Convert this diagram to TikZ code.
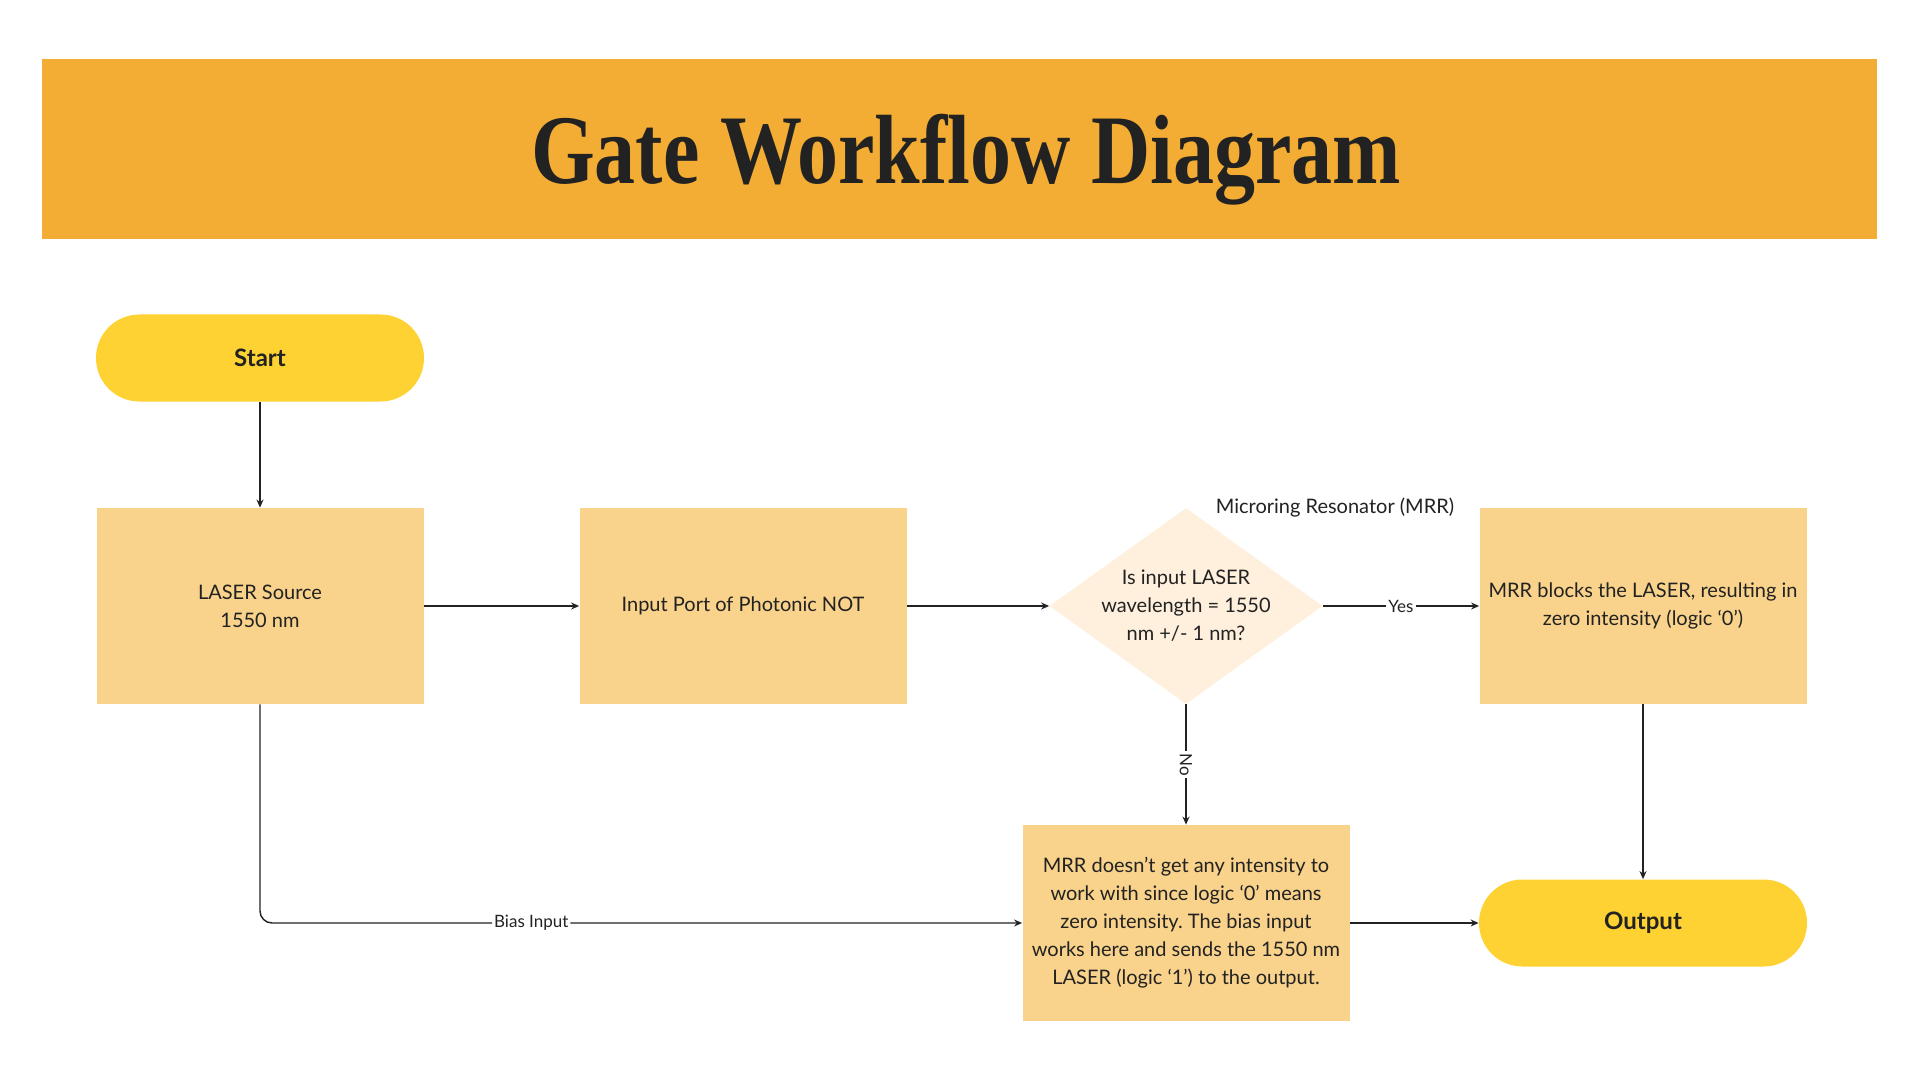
\documentclass[tikz,border=0pt]{standalone}
\usepackage{fontspec}
\setmainfont{Lato}
\newfontfamily\titlefont{Liberation Serif}
\usetikzlibrary{shapes.geometric,arrows.meta}
\definecolor{bannerc}{HTML}{F3AD34}
\definecolor{termc}{HTML}{FED232}
\definecolor{boxc}{HTML}{F9D38B}
\definecolor{diac}{HTML}{FEF0DC}
\definecolor{ink}{HTML}{222222}
\frenchspacing
\begin{document}
\begin{tikzpicture}[x=0.5pt,y=-0.5pt,
  terminal/.style={rectangle, rounded corners=21.7pt, fill=termc, minimum width=164pt, minimum height=43.5pt, font=\fontsize{12}{14}\selectfont\bfseries, text=ink},
  procbox/.style={rectangle, fill=boxc, minimum width=163.5pt, minimum height=98pt, align=center, font=\fontsize{10}{14}\selectfont, text=ink, inner sep=0pt},
  decision/.style={diamond, fill=diac, minimum width=136.5pt, minimum height=98pt, inner sep=0pt},
  conn/.style={draw=ink, line width=0.7pt, -{Stealth[length=4pt,width=3.5pt]}},
  lab/.style={fill=white, font=\fontsize{8.5}{10}\selectfont, text=ink, inner sep=1pt},
  plain/.style={font=\fontsize{10}{14}\selectfont, text=ink, align=center}
]
\useasboundingbox[fill=white] (0,0) rectangle (1920,1080);
\fill[bannerc] (42,59) rectangle (1877,239);
\node[anchor=base, text=ink, font=\titlefont\bfseries\fontsize{41}{45}\selectfont] (title) at (966,184) {\scalebox{1}[1.2]{Gate Workflow Diagram}};

\node[terminal] (start) at (260,358) {Start};
\node[procbox] (laser) at (260,606) {LASER Source\\1550 nm};
\node[procbox] (port) at (743,606) {Input Port of Photonic NOT};
\node[decision] (dec) at (1186,606) {};
\node[plain] (dectext) at (dec) {Is input LASER\\wavelength = 1550\\nm +/- 1 nm?};
\node[plain] (mrrlab) at (1335,508) {Microring Resonator (MRR)};
\node[procbox] (blocks) at (1643,606) {MRR blocks the LASER, resulting in\\zero intensity (logic ‘0’)};
\node[procbox] (nogets) at (1186,923) {MRR doesn’t get any intensity to\\work with since logic ‘0’ means\\zero intensity. The bias input\\works here and sends the 1550 nm\\LASER (logic ‘1’) to the output.};
\node[terminal] (output) at (1643,923) {Output};

\draw[conn] (start) -- (laser);
\draw[conn] (laser) -- (port);
\draw[conn] (port) -- (dec);
\draw[conn] (dec) -- node[lab]{Yes} (blocks);
\draw[conn] (dec) -- node[lab, rotate=-90]{No} (nogets);
\draw[conn, rounded corners=6pt] (laser.south) |- node[lab, pos=0.678]{Bias Input} (nogets.west);
\draw[conn] (nogets) -- (output);
\draw[conn] (blocks) -- (output);
\end{tikzpicture}
\end{document}
